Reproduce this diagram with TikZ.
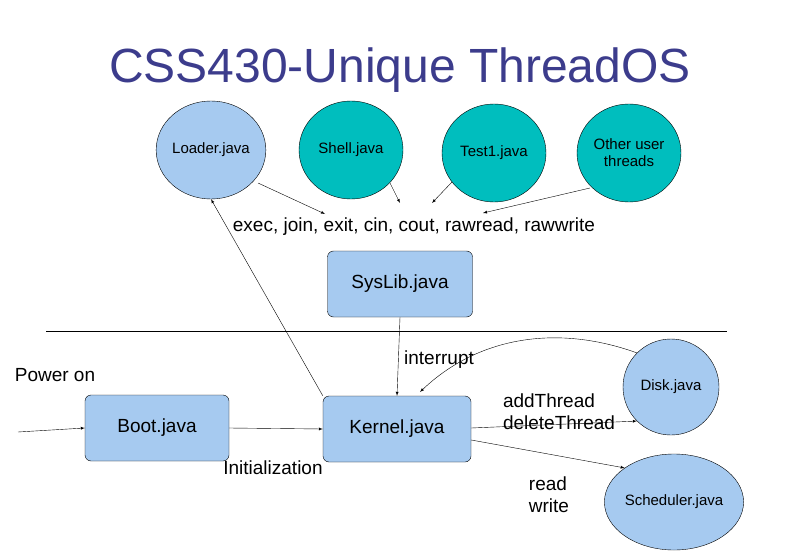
\documentclass[tikz,border=0pt]{standalone}
\usepackage{fontspec}
\setmainfont{Liberation Sans}
\usetikzlibrary{shapes.geometric}
\begin{document}
\begin{tikzpicture}[x=1pt,y=-1pt,
  lb/.style={draw=black,fill={rgb,255:red,166;green,202;blue,240}},
  tl/.style={draw=black,fill={rgb,255:red,0;green,190;blue,190}},
  circ/.style={ellipse,inner sep=0pt,font=\fontsize{15}{17}\selectfont,align=center},
  box/.style={lb,rounded corners=6pt,minimum width=145pt,minimum height=66pt,font=\fontsize{19}{22}\selectfont},
  lab/.style={font=\fontsize{19}{22}\selectfont,inner sep=0pt,align=left},
  ar/.style={-latex,thin}]
\useasboundingbox (0,0) rectangle (799,553);
\node[font=\fontsize{48}{56}\selectfont,text={rgb,255:red,60;green,60;blue,140}] (title) at (400,70) {CSS430-Unique ThreadOS};
\node[circ,lb,minimum width=102pt,minimum height=98pt] (loader) at (211,150) {Loader.java};
\node[circ,tl,minimum width=104pt,minimum height=98pt] (shell) at (351,150) {Shell.java};
\node[circ,tl,minimum width=104pt,minimum height=98pt] (test) at (494,153) {Test1.java};
\node[circ,tl,minimum width=104pt,minimum height=98pt] (other) at (629,153) {Other user\\threads};
\node[lab] (calls) at (414,227) {exec, join, exit, cin, cout, rawread, rawwrite};
\node[box] (syslib) at (400,284) {SysLib.java};
\draw (46,331) -- (727,331);
\node[box,minimum width=144pt] (boot) at (157,428) {Boot.java};
\node[box,minimum width=148pt] (kernel) at (397,429) {Kernel.java};
\node[circ,lb,minimum width=96pt,minimum height=96pt] (disk) at (671,387) {Disk.java};
\node[circ,lb,minimum width=104pt,minimum height=96pt] (sched) at (674,502) {Scheduler.java};
\node[lab] (power) at (55,375) {Power on};
\node[lab] (init) at (273,468) {Initialization};
\node[lab] (intr) at (439,360) {interrupt};
\node[lab] (addt) at (559,412) {addThread\\deleteThread};
\node[lab] (rw) at (549,495) {read\\write};
\coordinate (start) at (18,432);
\coordinate (c1) at (325,214);
\coordinate (c2) at (400,203);
\coordinate (c3) at (432,203);
\coordinate (c4) at (483,213);
\draw[ar] (start) -- (boot.west);
\draw[ar] (boot.east) -- (kernel.west);
\draw[ar] (syslib.south) -- (kernel.north);
\draw[ar] (kernel.north west) -- (loader.south);
\draw[ar] (258,183) -- (c1);
\draw[ar] (390,183) -- (c2);
\draw[ar] (452,182) -- (c3);
\draw[ar] (590,188) -- (c4);
\draw[ar] (disk.north west) .. controls (560,325) and (480,335) .. (420,392);
\draw[ar] (kernel.east) ++(0,-1) -- (disk.south west);
\draw[ar] (kernel.east) ++(0,11) -- (sched.north west);
\end{tikzpicture}
\end{document}
